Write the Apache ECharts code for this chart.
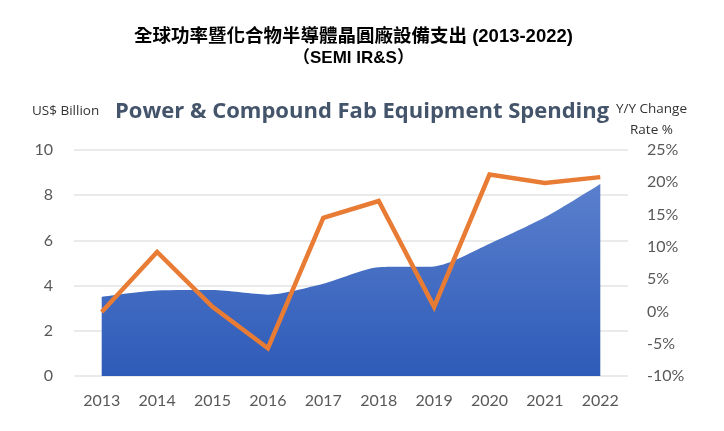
<!DOCTYPE html>
<html>
<head>
<meta charset="utf-8">
<script src="https://cdn.jsdelivr.net/npm/echarts@6/dist/echarts.min.js"></script>
<style>
  html, body { margin: 0; padding: 0; background: #fff; }
  #grafico { width: 724px; height: 431px; }
</style>
</head>
<body>
<div id="grafico"></div>
<script>
// Datos
const anios = ['2013', '2014', '2015', '2016', '2017', '2018', '2019', '2020', '2021', '2022'];
const gasto = [3.5, 3.78, 3.8, 3.6, 4.08, 4.81, 4.85, 5.85, 7.02, 8.5];       // US$ Billion
const variacion = [-0.1, 9.2, 0.7, -5.7, 14.5, 17.1, 0.7, 21.2, 19.9, 20.8]; // Y/Y %

const gris = '#595959';
const fuenteEje = 'Lato, "Open Sans", sans-serif';
const fuenteTitulo = '"Liberation Sans", "Noto Sans CJK TC", sans-serif';

function texto(t, left, top, size, extra) {
    return {
        text: t, left: left, top: top,
        textStyle: Object.assign({ fontSize: size, fontWeight: 'normal', color: '#333', fontFamily: '"Open Sans", sans-serif' }, extra || {})
    };
}

function crearGrafico(data) {
    return {
        animation: false,
        title: [
            texto('全球功率暨化合物半導體晶圓廠設備支出 (2013-2022)', 129, 23, 18.5, { fontWeight: 'bold', color: '#000', fontFamily: fuenteTitulo }),
            texto('（SEMI IR&S）', 288, 45, 17, { fontWeight: 'bold', color: '#000', fontFamily: fuenteTitulo }),
            texto('Power & Compound Fab Equipment Spending', 110, 96, 22, { fontWeight: 'bold', color: '#44546A' }),
            texto('US$ Billion', 27, 99, 13.5),
            texto('Y/Y Change', 611, 97, 13.5),
            texto('Rate %', 625, 118, 13.5)
        ],
        grid: { left: 74, right: 96, top: 150, bottom: 55 },
        xAxis: {
            type: 'category',
            data: data.anios,
            boundaryGap: true,
            axisLine: { show: false },
            axisTick: { show: false },
            axisLabel: { color: gris, fontSize: 16, margin: 17, fontFamily: fuenteEje }
        },
        yAxis: [
            {
                type: 'value',
                min: 0, max: 10, interval: 2,
                axisLabel: { color: gris, fontSize: 16, margin: 21, fontFamily: fuenteEje },
                splitLine: { lineStyle: { color: '#e3e3e3', width: 1.5 } },
                axisLine: { show: false },
                axisTick: { show: false }
            },
            {
                type: 'value',
                min: -10, max: 25, interval: 5,
                position: 'right',
                axisLabel: { color: gris, fontSize: 16, margin: 19, formatter: '{value}%', fontFamily: fuenteEje },
                splitLine: { show: false },
                axisLine: { show: false },
                axisTick: { show: false }
            }
        ],
        series: [
            {
                name: 'Spending',
                type: 'line',
                yAxisIndex: 0,
                data: data.gasto,
                smooth: 0.25,
                symbol: 'none',
                lineStyle: { width: 0 },
                areaStyle: {
                    opacity: 1,
                    color: new echarts.graphic.LinearGradient(0, 0, 0, 1, [
                        { offset: 0, color: '#5a7fcd' },
                        { offset: 1, color: '#2e5bb8' }
                    ])
                },
                z: 1
            },
            {
                name: 'Y/Y',
                type: 'line',
                yAxisIndex: 1,
                data: data.variacion,
                symbol: 'none',
                lineStyle: { width: 4.5, color: '#E97C34', join: 'miter' },
                z: 2
            }
        ]
    };
}

function iniciar() {
    const chartDom = document.getElementById('grafico');
    const myChart = echarts.init(chartDom, null, { renderer: 'canvas' });
    myChart.setOption(crearGrafico({ anios, gasto, variacion }));
}

iniciar();
</script>
</body>
</html>
